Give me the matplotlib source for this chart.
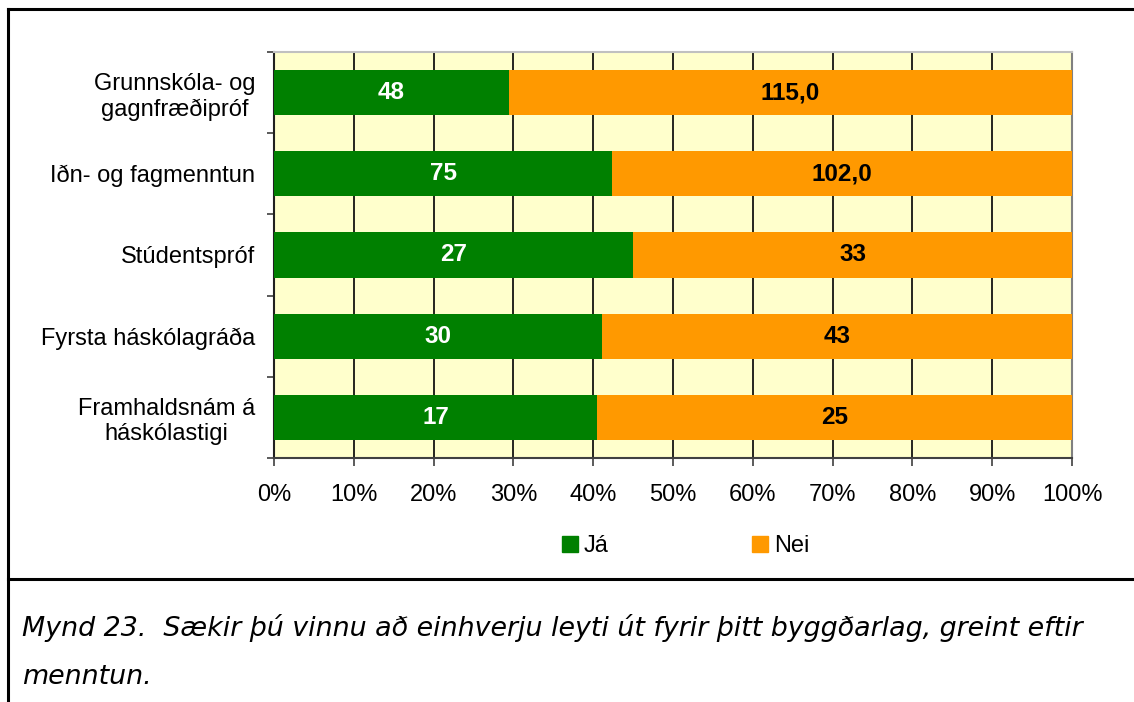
import matplotlib
matplotlib.use('Agg')
from matplotlib import pyplot as plt
from matplotlib.lines import Line2D
from matplotlib.patches import Patch

plt.rcParams['font.family'] = ['Liberation Sans', 'DejaVu Sans']

categories = ['Grunnskóla- og\ngagnfræðipróf', 'Iðn- og fagmenntun', 'Stúdentspróf',
              'Fyrsta háskólagráða', 'Framhaldsnám á\nháskólastigi']
ja = [48, 75, 27, 30, 17]
nei = [115, 102, 33, 43, 25]
ja_labels = ['48', '75', '27', '30', '17']
nei_labels = ['115,0', '102,0', '33', '43', '25']
xtick_labels = ['0%', '10%', '20%', '30%', '40%', '50%', '60%', '70%', '80%', '90%', '100%']
caption = ('Mynd 23.  Sækir þú vinnu að einhverju leyti út fyrir þitt byggðarlag, greint eftir\n'
           'menntun.')

GREEN = '#008000'
ORANGE = '#FF9900'

fig = plt.figure(figsize=(11.34, 7.02), dpi=100)
ax = fig.add_axes([274 / 1134, 1 - 458 / 702, (1072 - 274) / 1134, (458 - 52) / 702])
ax.set_facecolor('#FFFFCC')

totals = [a + b for a, b in zip(ja, nei)]
ja_pct = [a / t * 100 for a, t in zip(ja, totals)]
nei_pct = [b / t * 100 for b, t in zip(nei, totals)]
pos = list(range(len(categories)))

ax.barh(pos, ja_pct, height=0.555, color=GREEN, zorder=3)
ax.barh(pos, nei_pct, left=ja_pct, height=0.555, color=ORANGE, zorder=3)

for i in pos:
    ax.text(ja_pct[i] / 2, i, ja_labels[i], ha='center', va='center', color='white',
            fontsize=17.5, fontweight='bold', zorder=4)
    ax.text(ja_pct[i] + nei_pct[i] / 2, i, nei_labels[i], ha='center', va='center',
            color='black', fontsize=17.5, fontweight='bold', zorder=4)

ax.set_xlim(0, 100)
ax.set_ylim(len(categories) - 0.5, -0.5)
ax.set_xticks(range(0, 101, 10))
ax.set_xticklabels(xtick_labels, fontsize=17)
ax.grid(axis='x', color='#000000', linewidth=1.2, zorder=1)
ax.set_axisbelow(True)

# category labels at centres, tick marks at boundaries
ax.set_yticks(pos)
ax.set_yticklabels(categories, fontsize=17, ha='right', multialignment='center')
ax.tick_params(axis='y', length=0, pad=13.5)
ax.set_yticks([p - 0.5 for p in pos] + [len(pos) - 0.5], minor=True)
ax.tick_params(axis='y', which='minor', length=5, color='#404040', width=1.2)
ax.tick_params(axis='x', length=6, color='#404040', width=1.2, pad=13)

ax.spines['left'].set_color('#202020')
ax.spines['bottom'].set_color('#404040')
ax.spines['top'].set_color('#c0c0c0')
ax.spines['right'].set_color('#808080')
for s in ax.spines.values():
    s.set_linewidth(1.5)

fig.legend(handles=[Patch(color=GREEN, label='Já'), Patch(color=ORANGE, label='Nei')],
           loc='center', bbox_to_anchor=(685.5 / 1134, 1 - 546 / 702), ncol=2,
           frameon=False, fontsize=17, handlelength=0.68, handleheight=0.68,
           handletextpad=0.25, columnspacing=6.07)

# frame lines
fig.add_artist(Line2D([8 / 1134, 1], [1 - 9 / 702, 1 - 9 / 702], color='black', lw=2.2))
fig.add_artist(Line2D([8 / 1134, 8 / 1134], [0, 1 - 9 / 702], color='black', lw=2.2))
fig.add_artist(Line2D([8 / 1134, 1], [1 - 579 / 702, 1 - 579 / 702], color='black', lw=2.2))

fig.text(22 / 1134, 1 - 652 / 702, caption, fontsize=19.35, style='italic',
         family='DejaVu Sans', linespacing=2.15, va='center', ha='left')

fig.savefig('out.png', dpi=100)
